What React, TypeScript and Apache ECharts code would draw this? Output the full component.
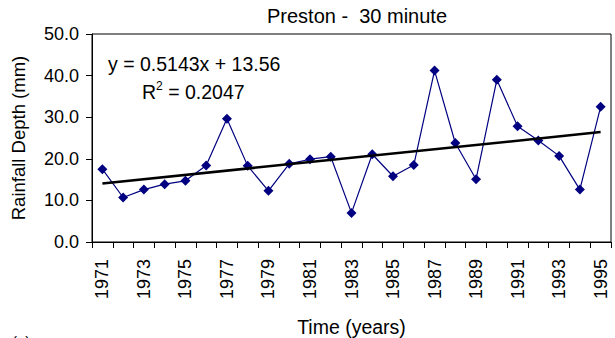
import React, { useEffect, useRef } from "react";
import * as echarts from "echarts";

const years = [
  "1971", "1972", "1973", "1974", "1975", "1976", "1977", "1978", "1979", "1980",
  "1981", "1982", "1983", "1984", "1985", "1986", "1987", "1988", "1989", "1990",
  "1991", "1992", "1993", "1994", "1995",
];
const depth = [
  17.5, 10.7, 12.6, 13.9, 14.7, 18.4, 29.6, 18.3, 12.3, 18.8,
  19.9, 20.5, 7.0, 21.1, 15.8, 18.5, 41.2, 23.8, 15.1, 39.0,
  27.8, 24.4, 20.7, 12.6, 32.5,
];
const trendYears = ["1971", "1995"];
const trendValues = [14.07, 26.42];
const titleText = "Preston -  30 minute";
const equationText = "y = 0.5143x + 13.56";
const r2Value = "0.2047";

const FONT = "Liberation Sans, Arial, sans-serif";

export default function App() {
  const ref = useRef<HTMLDivElement>(null);
  useEffect(() => {
    if (!ref.current) return;
    const chart = echarts.init(ref.current, null, { renderer: "svg" });
    chart.setOption({
      animation: false,
      backgroundColor: "#ffffff",
      textStyle: { fontFamily: FONT, color: "#000" },
      title: {
        text: titleText,
        left: 352,
        textAlign: "center",
        top: 1,
        textStyle: { fontFamily: FONT, fontSize: 20, fontWeight: "normal", color: "#000" },
      },
      grid: {
        left: 92,
        right: 4,
        top: 34,
        bottom: 96,
        containLabel: false,
        outerBoundsMode: "none",
        show: true,
        borderColor: "#000",
        borderWidth: 1,
        backgroundColor: "transparent",
      },
      xAxis: {
        type: "category",
        data: years,
        boundaryGap: true,
        name: "Time (years)",
        nameLocation: "middle",
        nameGap: 75,
        nameTextStyle: { fontFamily: FONT, fontSize: 19.5, color: "#000" },
        axisLine: { lineStyle: { color: "#000", width: 1 } },
        axisTick: { show: true, interval: 0, length: 6, inside: false, lineStyle: { color: "#000" } },
        axisLabel: {
          interval: 1,
          rotate: 90,
          margin: 17,
          fontFamily: FONT,
          fontSize: 18,
          color: "#000",
        },
        splitLine: { show: false },
      },
      yAxis: {
        type: "value",
        min: 0,
        max: 50,
        interval: 10,
        name: "Rainfall Depth (mm)",
        nameLocation: "middle",
        nameGap: 64,
        nameRotate: 90,
        nameTextStyle: { fontFamily: FONT, fontSize: 18.5, color: "#000" },
        axisLine: { show: true, lineStyle: { color: "#000", width: 1 } },
        axisTick: { show: true, length: 6, inside: false, lineStyle: { color: "#000" } },
        axisLabel: {
          margin: 13,
          fontFamily: FONT,
          fontSize: 18,
          color: "#000",
          formatter: (v: number) => v.toFixed(1),
        },
        splitLine: { show: false },
      },
      series: [
        {
          type: "line",
          data: depth,
          symbol: "diamond",
          symbolSize: 10,
          lineStyle: { color: "#000080", width: 1.2 },
          itemStyle: { color: "#000080" },
          z: 2,
        },
        {
          type: "line",
          data: trendYears.map((y, i) => [y, trendValues[i]]),
          symbol: "none",
          lineStyle: { color: "#000", width: 2.5 },
          z: 3,
        },
      ],
      graphic: [
        {
          type: "text",
          left: 108,
          top: 54,
          style: { text: equationText, font: `19.5px ${FONT}`, fill: "#000" },
        },
        {
          type: "text",
          left: 142,
          top: 80,
          style: {
            text: "{r|R}{s|2}{r| = " + r2Value + "}",
            rich: {
              r: { fontFamily: FONT, fontSize: 19.5, fill: "#000", verticalAlign: "bottom" },
              s: { fontFamily: FONT, fontSize: 12, fill: "#000", verticalAlign: "top", padding: [0, 0, 10, 0] },
            },
          },
        },
        {
          type: "text",
          left: 12,
          top: 334,
          style: { text: "(a)", font: `15px ${FONT}`, fill: "#000" },
        },
      ],
    });
    return () => chart.dispose();
  }, []);
  return (
    <div
      ref={ref}
      style={{ position: "absolute", left: 0, top: 0, width: 615, height: 338 }}
    />
  );
}
